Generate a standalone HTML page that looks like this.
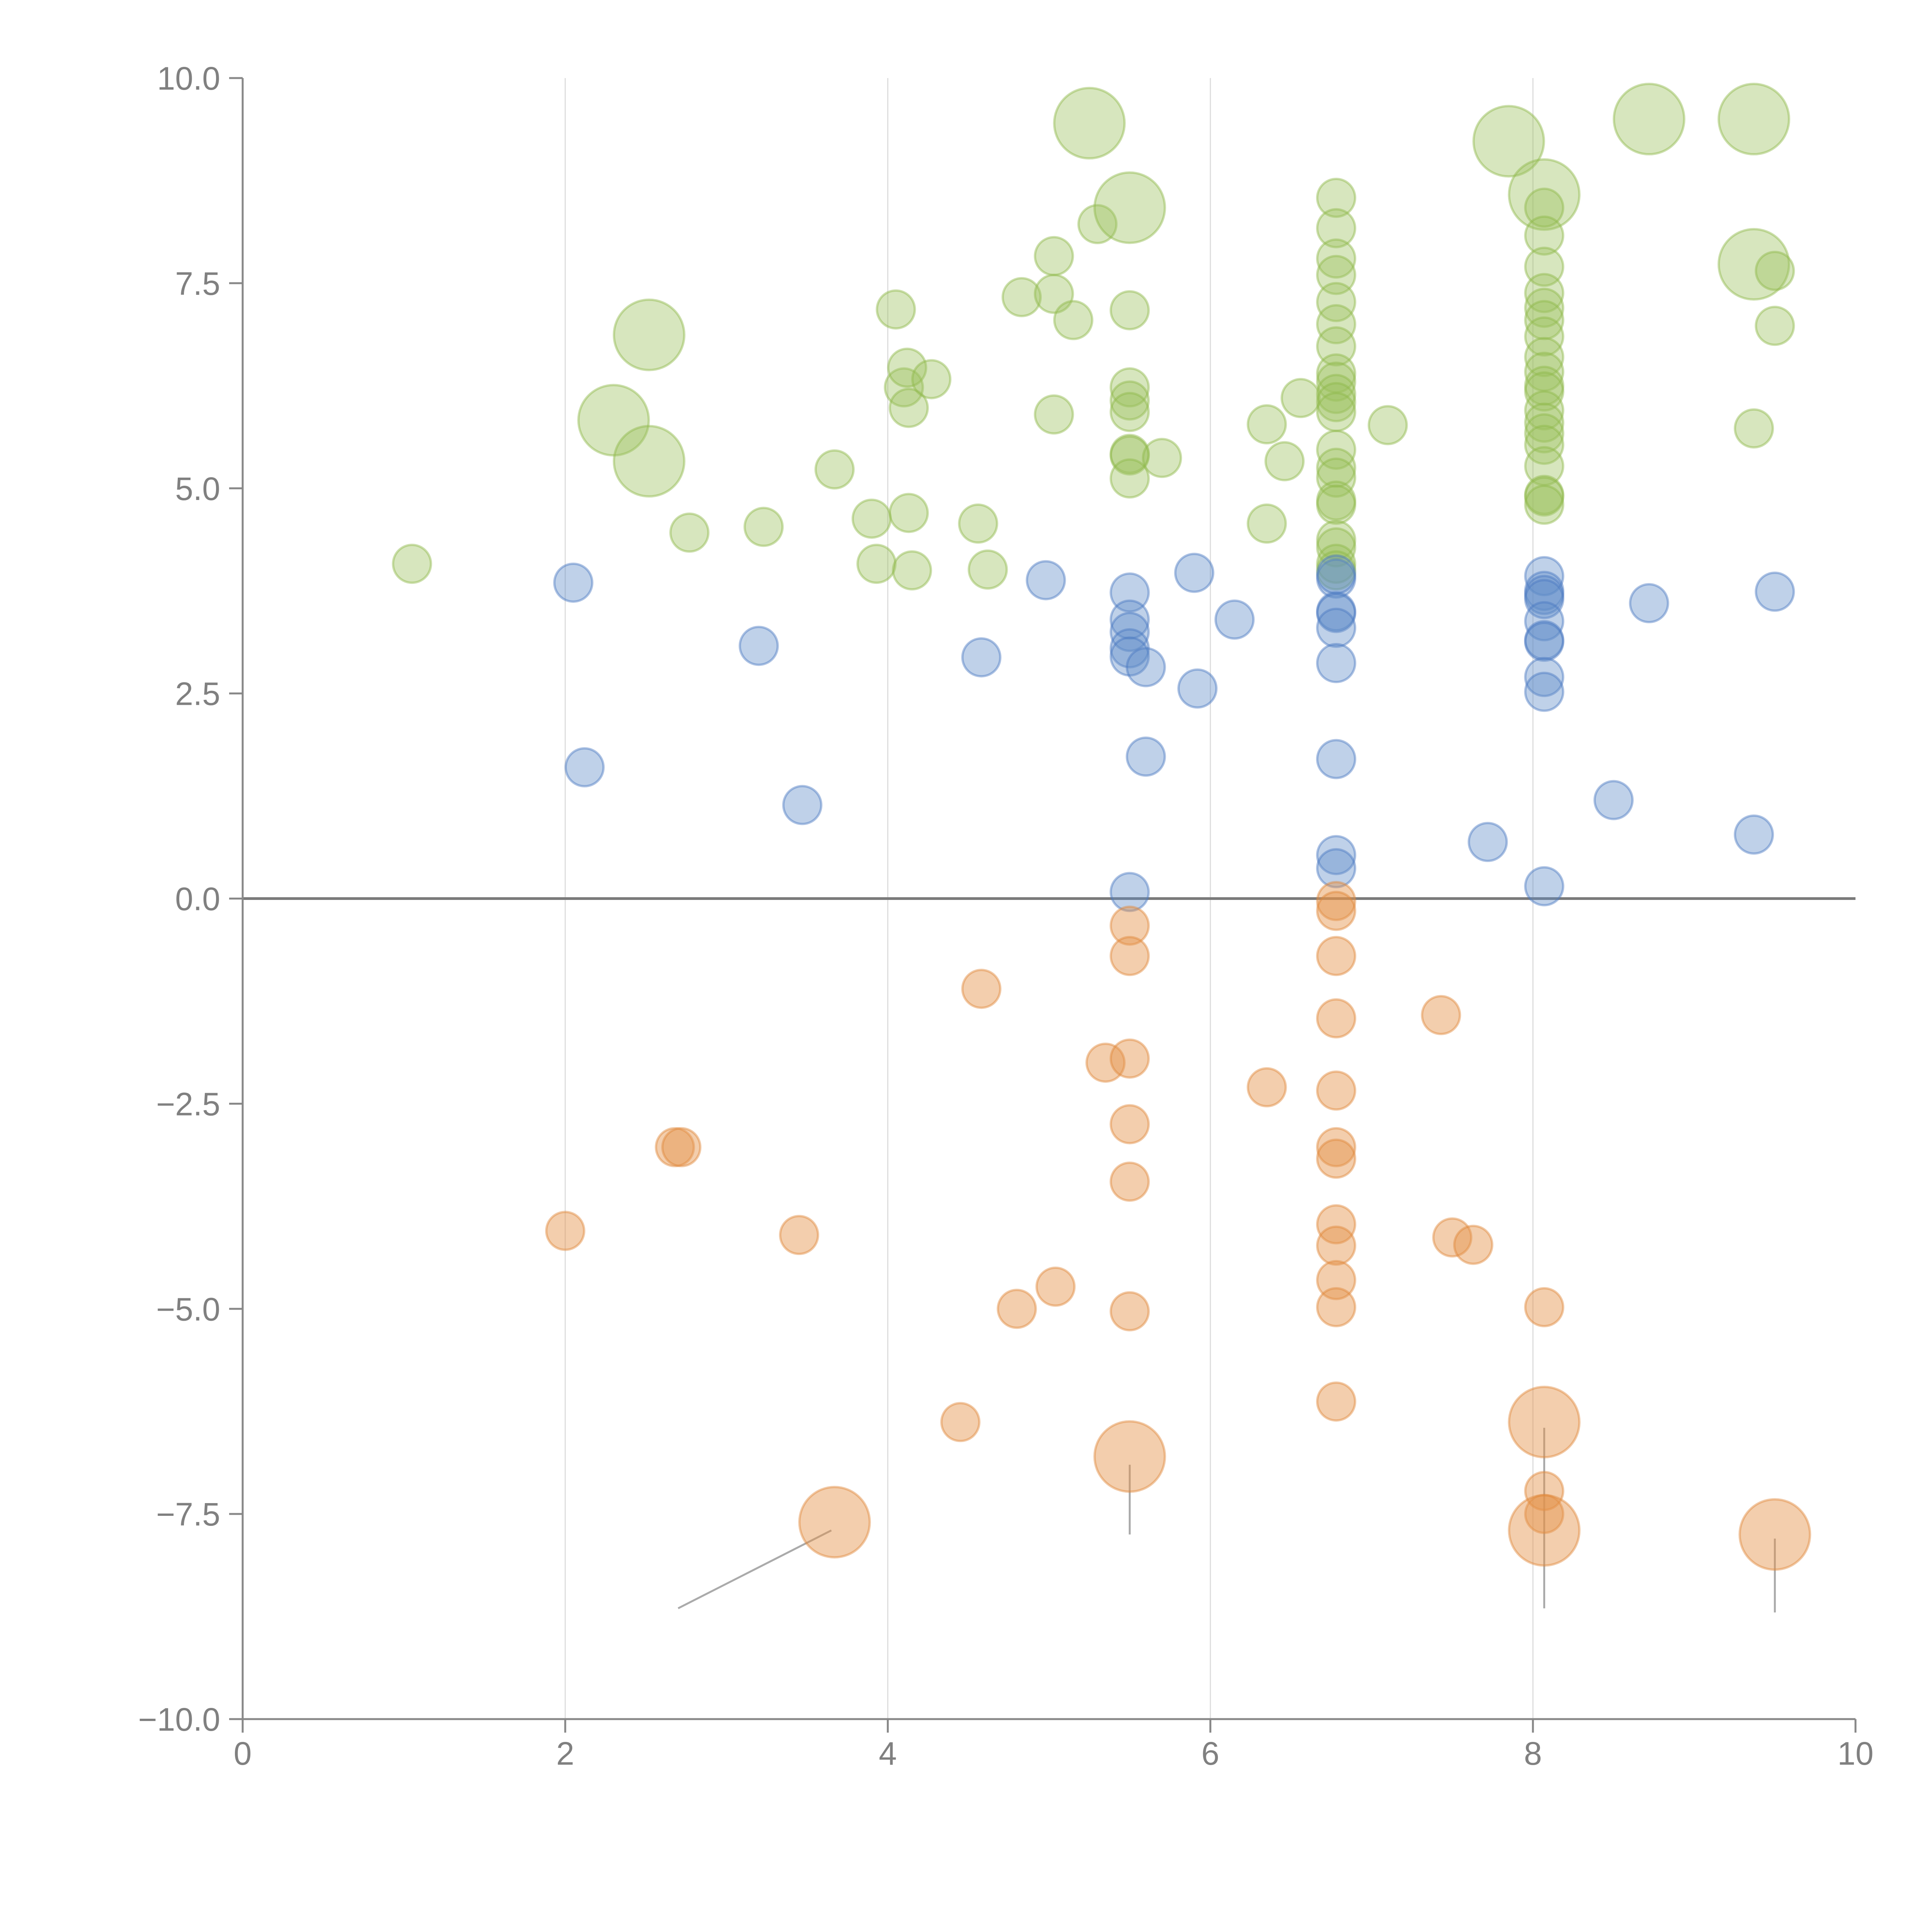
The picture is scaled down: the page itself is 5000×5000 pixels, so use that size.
<!DOCTYPE html>
<html><head><meta charset="utf-8">
<style>html,body{margin:0;padding:0;background:#fff;}svg{display:block;}</style>
</head><body>
<svg id="chart" width="5000" height="5000" xmlns="http://www.w3.org/2000/svg" font-family="Liberation Sans, Arial, sans-serif"></svg>
<script>
const xTicks=[0,2,4,6,8,10];
const xTickLabels=["0","2","4","6","8","10"];
const yTicks=[10,7.5,5,2.5,0,-2.5,-5,-7.5,-10];
const yTickLabels=["10.0","7.5","5.0","2.5","0.0","\u22122.5","\u22125.0","\u22127.5","\u221210.0"];
const blueX=[2.05,2.12,3.2,3.47,4.58,4.98,5.5,5.5,5.5,5.5,5.5,5.6,5.6,5.5,5.9,5.92,6.15,6.78,6.78,6.78,6.78,6.78,6.78,6.78,6.78,6.78,7.72,8.07,8.07,8.07,8.07,8.07,8.07,8.07,8.07,8.07,8.07,8.5,8.72,9.37,9.5];
const blueY=[3.85,1.6,3.08,1.14,2.94,3.88,3.73,3.4,3.25,3.05,2.95,2.82,1.73,0.08,3.97,2.56,3.4,3.9,3.95,3.5,3.48,3.3,2.87,1.7,0.53,0.37,0.69,3.93,3.75,3.7,3.65,3.38,3.15,3.13,2.7,2.52,0.15,1.2,3.6,0.78,3.74];
const orangeX=[2.0,2.68,2.72,3.45,3.67,4.45,4.58,4.8,5.04,5.35,5.5,5.5,5.5,5.5,5.5,5.5,5.5,6.35,6.78,6.78,6.78,6.78,6.78,6.78,6.78,6.78,6.78,6.78,6.78,6.78,7.43,7.5,7.63,8.07,8.07,8.07,8.07,8.07,9.5];
const orangeY=[-4.05,-3.03,-3.03,-4.1,-7.6,-6.38,-1.1,-5.0,-4.73,-2.0,-0.33,-0.7,-1.95,-2.75,-3.45,-5.03,-6.8,-2.3,-0.03,-0.15,-0.7,-1.46,-2.34,-3.03,-3.17,-3.97,-4.23,-4.65,-4.98,-6.13,-1.42,-4.13,-4.22,-4.98,-6.38,-7.22,-7.5,-7.7,-7.75];
const orangeBig=[0,0,0,0,1,0,0,0,0,0,0,0,0,0,0,0,1,0,0,0,0,0,0,0,0,0,0,0,0,0,0,0,0,0,1,0,0,1,1];
const greenX=[1.05,2.3,2.52,2.52,2.77,3.23,3.67,3.9,3.93,4.05,4.1,4.12,4.13,4.13,4.15,4.27,4.56,4.62,4.83,5.03,5.03,5.03,5.15,5.25,5.3,5.5,5.5,5.5,5.5,5.5,5.5,5.5,5.5,5.7,6.35,6.35,6.46,6.56,6.78,6.78,6.78,6.78,6.78,6.78,6.78,6.78,6.78,6.78,6.78,6.78,6.78,6.78,6.78,6.78,6.78,6.78,6.78,6.78,6.78,7.1,7.85,8.07,8.07,8.07,8.07,8.07,8.07,8.07,8.07,8.07,8.07,8.07,8.07,8.07,8.07,8.07,8.07,8.07,8.07,8.07,8.07,8.72,9.37,9.37,9.37,9.5,9.5];
const greenY=[4.08,5.83,6.87,5.33,4.46,4.53,5.23,4.63,4.08,7.18,6.23,6.47,5.98,4.7,4.0,6.33,4.57,4.01,7.33,7.83,7.37,5.9,7.05,9.45,8.22,8.42,7.17,6.23,6.07,5.93,5.42,5.4,5.12,5.37,5.78,4.57,5.33,6.1,8.54,8.17,7.8,7.6,7.27,7.0,6.73,6.4,6.3,6.15,6.05,5.93,5.47,5.25,5.13,4.85,4.8,4.37,4.28,4.08,4.0,5.77,9.23,8.58,8.42,8.08,7.7,7.38,7.2,7.05,6.85,6.6,6.42,6.25,6.18,5.95,5.8,5.67,5.53,5.27,4.92,4.9,4.8,9.5,9.5,7.73,5.73,7.65,6.98];
const greenBig=[0,1,1,1,0,0,0,0,0,0,0,0,0,0,0,0,0,0,0,0,0,0,0,1,0,1,0,0,0,0,0,0,0,0,0,0,0,0,0,0,0,0,0,0,0,0,0,0,0,0,0,0,0,0,0,0,0,0,0,0,1,1,0,0,0,0,0,0,0,0,0,0,0,0,0,0,0,0,0,0,0,1,1,1,0,0,0];
const leaderX1=[2.7,5.5,8.07,9.5], leaderY1=[-8.65,-6.9,-6.45,-7.8];
const leaderX2=[3.65,5.5,8.07,9.5], leaderY2=[-7.7,-7.75,-8.65,-8.7];

const NS="http://www.w3.org/2000/svg";
const svg=document.getElementById('chart');
const X0=628,X1=4802,Y0=4449,Y1=202;
const sx=v=>X0+(v-0)/(10-0)*(X1-X0);
const sy=v=>Y0-(v+10)/20*(Y0-Y1);
function mk(tag,attrs,parent){const e=document.createElementNS(NS,tag);for(const k in attrs)e.setAttribute(k,attrs[k]);(parent||svg).appendChild(e);return e;}

xTicks.forEach((t,i)=>{ if(t===0||t===10) return;
  const g=mk('line',{x1:sx(t),x2:sx(t),y1:Y1,y2:Y0,stroke:'#dddddd','stroke-width':3});
  
  
});
const zl=mk('line',{x1:X0,x2:X1,y1:sy(0),y2:sy(0),stroke:'#7a7a7a','stroke-width':7});



for(let i=0;i<leaderX1.length;i++){
  const l=mk('line',{x1:sx(leaderX1[i]),y1:sy(leaderY1[i]),x2:sx(leaderX2[i]),y2:sy(leaderY2[i]),stroke:'#aaaaaa','stroke-width':5});
  
  
}

function series(xs,ys,big,fill,stroke,fo,name){
  const g=mk('g',{});
  
  
  for(let i=0;i<xs.length;i++){
    const r=(big&&big[i])?91:49;
    const c=mk('circle',{cx:sx(xs[i]),cy:sy(ys[i]),r:r,fill:fill,'fill-opacity':fo,stroke:stroke,'stroke-opacity':0.45,'stroke-width':6},g);
    
    
  }
}
series(greenX,greenY,greenBig,'#9cc05c','#8fb84a',0.4,'green');
series(blueX,blueY,null,'#5f8bc9','#4a78c0',0.4,'blue');
series(orangeX,orangeY,orangeBig,'#e4924a','#e0883a',0.45,'orange');

const ya=mk('line',{x1:X0,x2:X0,y1:Y1,y2:Y0,stroke:'#888','stroke-width':5});


const xa=mk('line',{x1:X0,x2:X1,y1:Y0,y2:Y0,stroke:'#888','stroke-width':5});



yTicks.forEach((t,i)=>{
  const tk=mk('line',{x1:X0-35,x2:X0,y1:sy(t),y2:sy(t),stroke:'#888','stroke-width':5});
  
  
  const tx=mk('text',{x:X0-58,y:sy(t)+30,'text-anchor':'end','font-size':84,fill:'#808080'});
  tx.textContent=yTickLabels[i];
  
  
});
xTicks.forEach((t,i)=>{
  const tk=mk('line',{x1:sx(t),x2:sx(t),y1:Y0,y2:Y0+35,stroke:'#888','stroke-width':5});
  
  
  const tx=mk('text',{x:sx(t),y:Y0+118,'text-anchor':'middle','font-size':84,fill:'#808080'});
  tx.textContent=xTickLabels[i];
  
  
});
</script>
</body></html>
